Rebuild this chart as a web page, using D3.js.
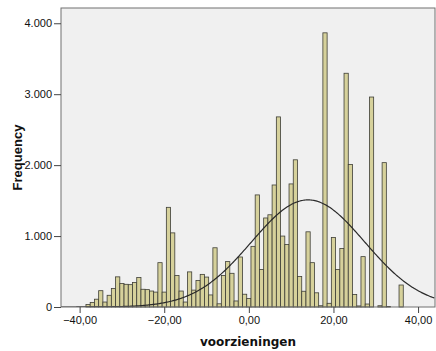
<!DOCTYPE html>
<html>
<head>
<meta charset="utf-8">
<script src="https://cdn.jsdelivr.net/npm/d3@7"></script>
<style>
  body { margin: 0; background: #fff; }
  svg { display: block; }
</style>
</head>
<body>
<div id="chart-area"></div>
<script>
// DATA
// =================
// bin centres (width 1) and counts
var binCenters = d3.range(-38, 37);
var counts = [
    35, 65, 110, 230, 70, 165, 260, 425, 330, 320,        // -38 .. -29
    315, 345, 415, 250, 245, 225, 210, 625, 210, 1405,    // -28 .. -19
    1045, 445, 225, 70, 495, 238, 375, 460, 422, 170,     // -18 .. -9
    835, 45, 445, 640, 475, 85, 705, 180, 120, 855,       // -8 .. 1
    1580, 530, 1255, 1300, 1720, 2680, 1000, 880, 1735, 2075, // 2 .. 11
    430, 222, 1060, 625, 200, 18, 3865, 52, 980, 530,     // 12 .. 21
    825, 3295, 2010, 175, 15, 710, 42, 2960, 0, 18,       // 22 .. 31
    2035, 8, 0, 0, 310                                    // 32 .. 36
];
// normal curve as drawn in the chart (mean, std. dev., peak height)
var curveMean = 14;
var curveSd = 13.4;
var curvePeak = 1510;

var xTicks = [-40, -20, 0, 20, 40];
var yTicks = [0, 1000, 2000, 3000, 4000];
var xLabel = 'voorzieningen';
var yLabel = 'Frequency';

// CANVAS + MARGINS
// =================
var W = 436, H = 351;
var margin = { left: 61, right: 1, top: 8, bottom: 44 };
var width = W - margin.left - margin.right;
var height = H - margin.top - margin.bottom;

var svg = d3.select('#chart-area')
    .append('svg')
        .attr('width', W)
        .attr('height', H);

var g = svg.append('g')
    .attr('transform', 'translate(' + margin.left + ',' + margin.top + ')');

var nl = d3.formatLocale({ decimal: ',', thousands: '.', grouping: [3], currency: ['€', ''] });

// SCALES
var x = d3.scaleLinear().domain([-44.4, 44.0]).range([0, width]);
var y = d3.scaleLinear().domain([0, 4215]).range([height, 0]);

// plot background
g.append('rect')
    .attr('width', width)
    .attr('height', height)
    .attr('fill', '#f0f0f0');

g.append('clipPath').attr('id', 'clip')
    .append('rect').attr('width', width).attr('height', height);

// BARS
var bins = binCenters.map(function (c, i) { return { c: c, n: counts[i] }; });
g.selectAll('rect.bar')
    .data(bins.filter(function (d) { return d.n > 0; }))
    .enter()
    .append('rect')
        .attr('class', 'bar')
        .attr('x', function (d) { return x(d.c - 0.5); })
        .attr('width', function (d) { return x(d.c + 0.5) - x(d.c - 0.5); })
        .attr('y', function (d) { return y(d.n); })
        .attr('height', function (d) { return y(0) - y(d.n); })
        .attr('fill', '#d6d19b')
        .attr('stroke', '#3e3e36')
        .attr('stroke-width', 0.8);

// NORMAL CURVE
var curve = d3.range(-44.4, 44.01, 0.25).map(function (v) {
    return [v, curvePeak * Math.exp(-0.5 * Math.pow((v - curveMean) / curveSd, 2))];
});
g.append('path')
    .datum(curve)
    .attr('clip-path', 'url(#clip)')
    .attr('fill', 'none')
    .attr('stroke', '#2a2a2a')
    .attr('stroke-width', 1.2)
    .attr('d', d3.line()
        .x(function (d) { return x(d[0]); })
        .y(function (d) { return y(d[1]); }));

// frame
g.append('rect')
    .attr('width', width)
    .attr('height', height)
    .attr('fill', 'none')
    .attr('stroke', '#707070')
    .attr('stroke-width', 1);

// AXES
var xAxis = g.append('g')
    .attr('transform', 'translate(0,' + height + ')')
    .call(d3.axisBottom(x).tickValues(xTicks).tickSize(6).tickPadding(3)
        .tickFormat(nl.format(',.2f')));
var yAxis = g.append('g')
    .call(d3.axisLeft(y).tickValues(yTicks).tickSize(7).tickPadding(2)
        .tickFormat(nl.format(',.0f')));

[xAxis, yAxis].forEach(function (a) {
    a.select('.domain').remove();
    a.selectAll('.tick line').attr('stroke', '#444');
    a.selectAll('.tick text')
        .attr('fill', '#111')
        .attr('font-family', 'Liberation Sans, Arial, sans-serif')
        .attr('font-size', '11px');
});

// LABELS
// =================
svg.append('text')
    .attr('x', margin.left + width / 2)
    .attr('y', 346)
    .attr('text-anchor', 'middle')
    .attr('font-family', 'DejaVu Sans, sans-serif')
    .attr('font-weight', 'bold')
    .attr('font-size', '12px')
    .attr('fill', '#111')
    .text(xLabel);

svg.append('text')
    .attr('transform', 'translate(22,' + (margin.top + height / 2) + ') rotate(-90)')
    .attr('text-anchor', 'middle')
    .attr('font-family', 'Liberation Sans, Arial, sans-serif')
    .attr('font-weight', 'bold')
    .attr('font-size', '13px')
    .attr('fill', '#111')
    .text(yLabel);
</script>
</body>
</html>
